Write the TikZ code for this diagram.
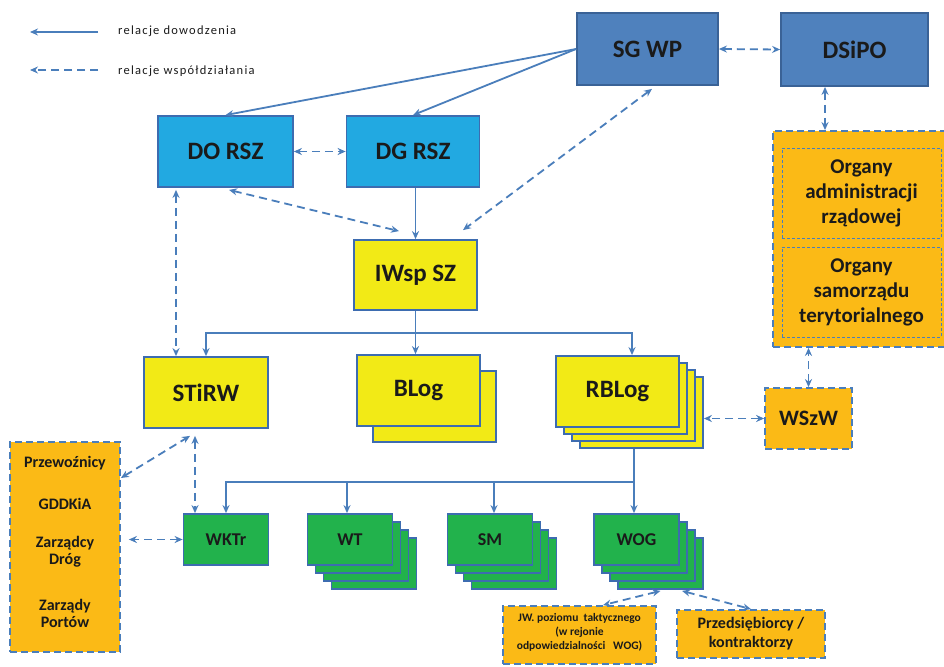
\documentclass[tikz,border=0pt]{standalone}
\usepackage{fontspec}
\setmainfont{Carlito}
\newfontfamily\legendfont{Carlito}[LetterSpace=10]
\usetikzlibrary{arrows.meta,calc}
\definecolor{sgfill}{HTML}{4F81BD}
\definecolor{sgbord}{HTML}{3A6296}
\definecolor{cyanfill}{HTML}{22A9E1}
\definecolor{bordc}{HTML}{3D6CB0}
\definecolor{yelfill}{HTML}{F2EA16}
\definecolor{orfill}{HTML}{FBBA16}
\definecolor{grfill}{HTML}{22B24C}
\definecolor{arrc}{HTML}{4A7EBB}
\definecolor{txtc}{HTML}{1A1A1A}
\tikzset{
  nbox/.style={draw=bordc, line width=1.8pt, inner sep=0pt, align=center, text=txtc},
  bigfont/.style={font=\bfseries\fontsize{25}{30}\selectfont},
  sgbox/.style={nbox, draw=sgbord, fill=sgfill, bigfont},
  cybox/.style={nbox, fill=cyanfill, bigfont, minimum width=134pt, minimum height=71pt},
  yelbox/.style={nbox, fill=yelfill, bigfont, minimum width=123pt, minimum height=71pt},
  grbox/.style={nbox, fill=grfill, minimum width=85pt, minimum height=51pt, font=\bfseries\fontsize{18}{21}\selectfont},
  orbox/.style={nbox, fill=orfill, draw=arrc, dash pattern=on 7pt off 4pt},
  inbox/.style={nbox, fill=orfill, draw=arrc, line width=1pt, dash pattern=on 3pt off 2pt, font=\bfseries\fontsize{21}{25}\selectfont},
  cmd/.style={draw=arrc, line width=1.8pt, -{Stealth[length=8pt,width=7pt]}},
  coop/.style={draw=arrc, line width=1.8pt, dash pattern=on 8pt off 5pt, {Stealth[length=8pt,width=7pt]}-{Stealth[length=8pt,width=7pt]}},
  coopone/.style={draw=arrc, line width=1.8pt, dash pattern=on 8pt off 5pt, -{Stealth[length=8pt,width=7pt]}},
  lefttext/.style={align=center, text=txtc, font=\bfseries\fontsize{16}{17}\selectfont, inner sep=0pt},
  legtext/.style={anchor=west, text=txtc, font=\legendfont\fontsize{12.5}{14}\selectfont, inner sep=0pt}
}
\begin{document}
\begin{tikzpicture}[x=1pt,y=-1pt]
\useasboundingbox (0,0) rectangle (944,666);
\fill[white] (0,0) rectangle (944,666);

% legend
\coordinate (l1a) at (98,32);
\coordinate (l1b) at (30,32);
\coordinate (l2a) at (98,70);
\coordinate (l2b) at (30,70);
\draw[cmd] (l1a) -- (l1b);
\draw[coopone] (l2a) -- (l2b);
\node[legtext] (leg1) at (118,31) {relacje dowodzenia};
\node[legtext] (leg2) at (118,71) {relacje współdziałania};

% top level
\node[sgbox, minimum width=141pt, minimum height=72pt] (sg) at (647.5,49) {SG WP};
\node[sgbox, minimum width=147pt, minimum height=73pt] (dsipo) at (854.5,49.5) {DSiPO};
\node[cybox, minimum width=135pt] (dorsz) at (225.5,151.5) {DO RSZ};
\node[cybox, minimum width=133pt] (dgrsz) at (413,151.5) {DG RSZ};
\node[yelbox, minimum height=70pt] (iwsp) at (415.5,275) {IWsp SZ};

% right orange block
\node[orbox, minimum width=177pt, minimum height=216pt] (big) at (861.5,239) {};
\node[inbox, minimum width=159pt, minimum height=90pt] (in1) at (861.5,193) {Organy\\administracji\\rządowej};
\node[inbox, minimum width=159pt, minimum height=90pt] (in2) at (861.5,292) {Organy\\samorządu\\terytorialnego};

% yellow level
\node[yelbox, minimum width=124pt] (stirw) at (206,392.5) {STiRW};
\node[yelbox] (bl1) at (434.5,406.5) {};
\node[yelbox] (blog) at (418.5,390.5) {BLog};
\foreach \i in {3,2,1} {
  \node[yelbox] (rb\i) at (617.5+8*\i,391.5+7*\i) {};
}
\node[yelbox] (rblog) at (617.5,391.5) {RBLog};
\node[orbox, minimum width=87pt, minimum height=61pt, font=\bfseries\fontsize{22}{26}\selectfont] (wszw) at (808.5,418.5) {WSzW};

% left orange block
\node[orbox, minimum width=110pt, minimum height=210pt] (left) at (65,547) {};
\node[lefttext] (t1) at (65,463) {Przewoźnicy};
\node[lefttext] (t2) at (65,504) {GDDKiA};
\node[lefttext] (t3) at (65,551.5) {Zarządcy\\Dróg};
\node[lefttext] (t4) at (65,613.5) {Zarządy\\Portów};

% green level
\node[grbox] (wktr) at (226,539.5) {WKTr};
\foreach \i in {3,2,1} {
  \node[grbox] (wt\i) at (350+8*\i,539.5+8*\i) {};
}
\node[grbox] (wt) at (350,539.5) {WT};
\foreach \i in {3,2,1} {
  \node[grbox] (sm\i) at (490+8*\i,539.5+8*\i) {};
}
\node[grbox] (sm) at (490,539.5) {SM};
\foreach \i in {3,2,1} {
  \node[grbox] (wo\i) at (636.5+8*\i,539.5+8*\i) {};
}
\node[grbox] (wog) at (636.5,539.5) {WOG};

% bottom orange boxes
\node[orbox, minimum width=153pt, minimum height=58pt] (jw) at (579.5,635) {};
\node[align=center, text=txtc, font=\bfseries\fontsize{11.5}{14}\selectfont, inner sep=0pt] (jwt) at (579.5,632) {JW. poziomu\ \ taktycznego\\(w rejonie\\odpowiedzialności\ \ \ WOG)};
\node[orbox, minimum width=148pt, minimum height=48pt, font=\bfseries\fontsize{16}{19}\selectfont] (przed) at (751,634) {Przedsiębiorcy /\\kontraktorzy};

% connectors: command
\draw[cmd] (sg.west) -- (dorsz.north);
\draw[cmd] (sg.west) -- (dgrsz.north);
\draw[cmd] (iwsp.north |- dgrsz.south) -- (iwsp.north);
\coordinate (busy) at (0,333);
\coordinate (busA) at (iwsp.south |- busy);
\draw[cmd] (iwsp.south) -- (iwsp.south |- blog.north);
\draw[cmd] (busA) -| (stirw.north);
\draw[cmd] (busA) -| ([xshift=14.5]rblog.north);
\coordinate (busy2) at (0,482);
\coordinate (rbd) at ([xshift=-7.5]rb3.south);
\coordinate (busB) at (rbd |- busy2);
\draw[cmd] (rbd) -- (rbd |- wog.north);
\draw[cmd] (busB) -| (wktr.north);
\draw[cmd] (busB) -| ([xshift=-3]wt.north);
\draw[cmd] (busB) -| ([xshift=4]sm.north);

% connectors: cooperation
\draw[coop] (dorsz.east) -- (dgrsz.west);
\draw[coop] (sg.east) -- (dsipo.west);
\draw[coop] ([xshift=-29.5]dsipo.south) -- ([xshift=-29.5]dsipo.south |- big.north);
\draw[coop] ([xshift=4.5,yshift=-3]sg.south) -- ([xshift=47.5,yshift=9]iwsp.north);
\draw[coop] ([xshift=3.5,yshift=-2]dorsz.south) -- ([xshift=-16.5,yshift=8]iwsp.north);
\draw[coop] ([xshift=-49.5,yshift=-2]dorsz.south) -- ([xshift=-49.5]dorsz.south |- stirw.north);
\draw[coop] (wszw.west) -- (wszw.west -| rb3.east);
\draw[coop] (wszw.north) -- (wszw.north |- big.south);
\draw[coop] ([yshift=69]left.east) -- ([xshift=-16,yshift=-7]stirw.south);
\draw[coop] ([xshift=-11,yshift=-7]stirw.south) -- ([xshift=-11]stirw.south |- wktr.north);
\draw[coop, shorten >=8pt] (wktr.west) -- (wktr.west -| left.east);
\draw[coop] ([yshift=-1]wo3.south) -- ([xshift=23.5]jw.north);
\draw[coop] ([xshift=21.5,yshift=-1]wo3.south) -- (przed.north);
\end{tikzpicture}
\end{document}
